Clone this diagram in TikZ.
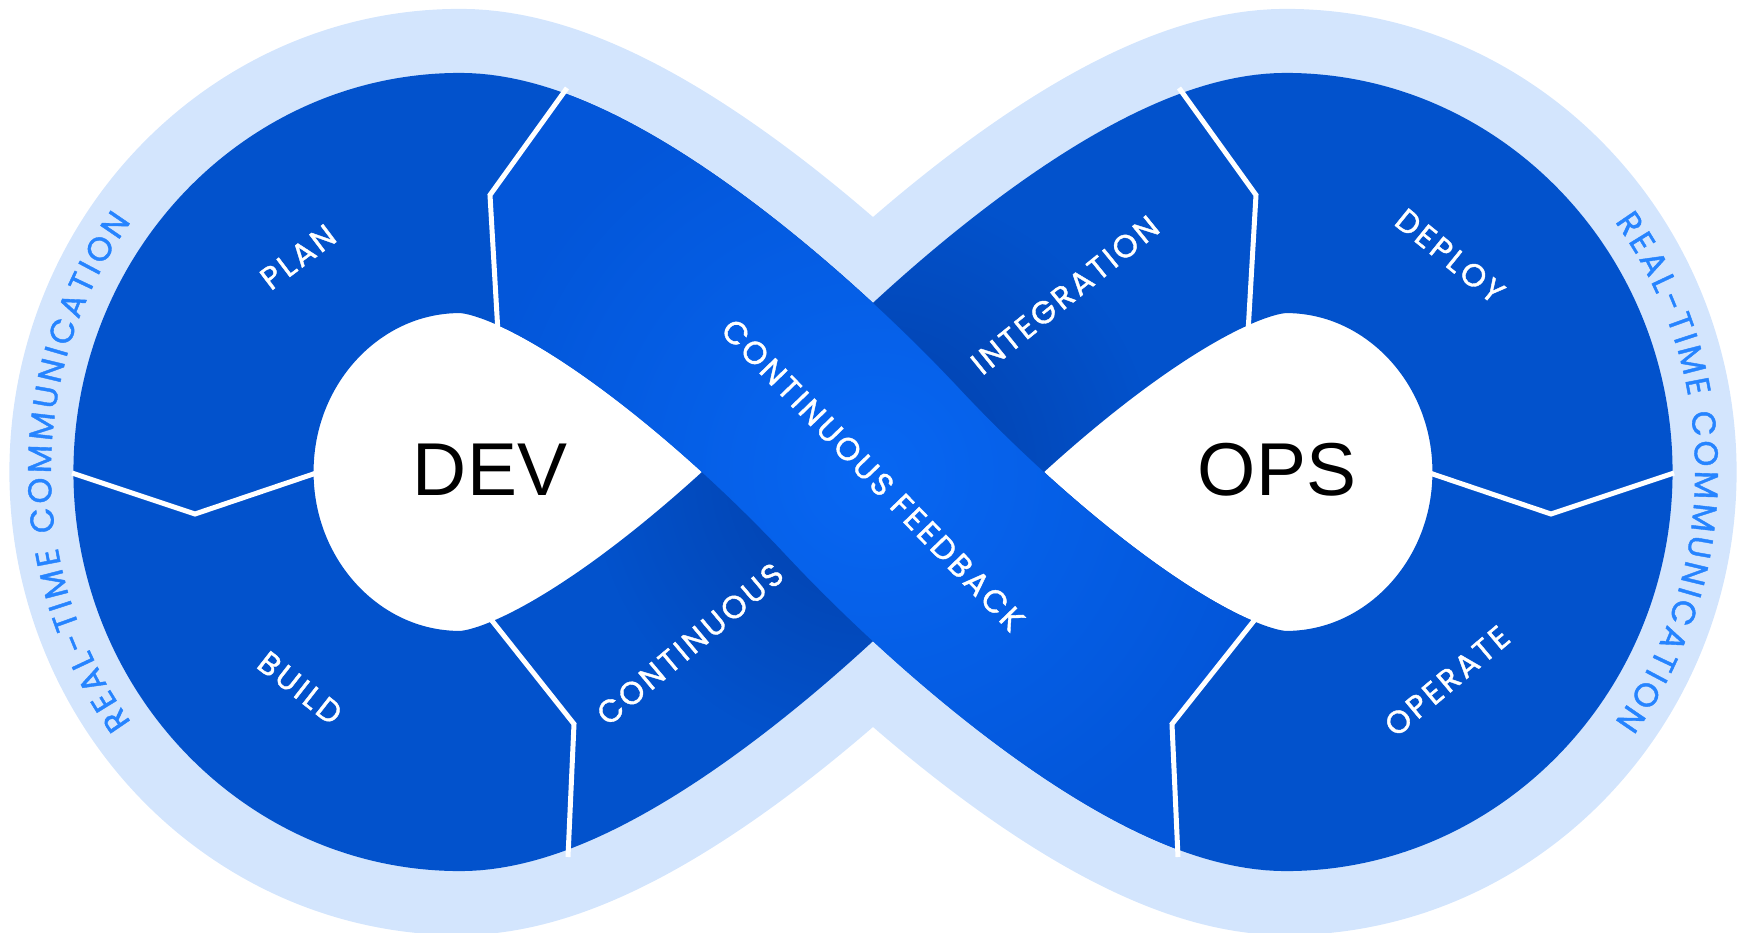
\documentclass[tikz,border=0pt]{standalone}
\usepackage{fontspec}
\setmainfont{Liberation Sans}
\newfontfamily\lblfont{Poppins}[LetterSpace=9.5,FakeBold=1.2]
\newfontfamily\rtcfont{Poppins}[FakeBold=1.2]
\usetikzlibrary{decorations.text,fadings}
\definecolor{lightband}{HTML}{D3E5FD}
\definecolor{lobe}{HTML}{0252CC}
\definecolor{bright}{HTML}{0356D9}
\definecolor{glow}{HTML}{0867F3}
\definecolor{shadowc}{HTML}{033FA8}
\definecolor{rtc}{HTML}{2684FF}
\tikzfading[name=softfade, inner color=transparent!0, outer color=transparent!100]
\tikzset{
  lbl/.style={text=white, font=\lblfont\fontsize{9}{11}\selectfont, inner sep=0pt},
  bigword/.style={text=black, font=\fontsize{21.3}{24}\selectfont, inner sep=0pt},
  divider/.style={draw=white, line width=0.05cm, line join=miter},
}
\begin{document}
\begin{tikzpicture}[x=0.01cm,y=-0.01cm]
\useasboundingbox (0,0) rectangle (1744,933);
\clip (0,0) rectangle (1744,933);
\path[save path=\infp] (460,193) .. controls (313,193) and (193.5,318) .. (193.5,472)
 .. controls (193.5,626) and (313,751) .. (460,751)
 .. controls (570,751) and (757,596) .. (873,472)
 .. controls (989,348) and (1176,193) .. (1286,193)
 .. controls (1433,193) and (1552.5,318) .. (1552.5,472)
 .. controls (1552.5,626) and (1433,751) .. (1286,751)
 .. controls (1176,751) and (989,596) .. (873,472)
 .. controls (757,348) and (570,193) .. (460,193) -- cycle;
\draw[lightband, line width=3.68cm, use path=\infp];
\fill[white, use path=\infp];
\draw[lobe, line width=2.4cm, use path=\infp];
% shadow cast by the feedback ribbon on the other ribbon
\draw[shadowc, line width=2.4cm, path fading=softfade, fit fading=false,
  fading transform={shift={(873,472)}, scale=3.2}]
  (460,751) .. controls (570,751) and (757,596) .. (873,472)
  .. controls (989,348) and (1176,193) .. (1286,193);
% bright ribbon (continuous feedback)
\begin{scope}
\clip (640,-20) -- (567,88) -- (490,195) -- (497,318) -- (503,423) -- (700,960) -- (1180,960)
  -- (1177,857) -- (1171,724) -- (1249,627) -- (1280,588) -- (1300,400) -- (1300,-20) -- cycle;
\draw[bright, line width=2.4cm] (460,193) .. controls (570,193) and (757,348) .. (873,472)
  .. controls (989,596) and (1176,751) .. (1286,751);
\draw[glow, line width=2.4cm, path fading=softfade, fit fading=false,
  fading transform={shift={(873,472)}, scale=4.6}]
  (460,193) .. controls (570,193) and (757,348) .. (873,472)
  .. controls (989,596) and (1176,751) .. (1286,751);
\end{scope}
% dividers
\draw[divider] (567,88) -- (490,195) -- (499,350);
\draw[divider] (474,598) -- (574,724) -- (568,857);
\draw[divider] (1179,88) -- (1256,195) -- (1247,350);
\draw[divider] (1272,598) -- (1172,724) -- (1178,857);
\draw[divider] (72,473) -- (195,514) -- (340,465);
\draw[divider] (1406,465) -- (1551,514) -- (1674,473);
% labels
\node[lbl, rotate=37] (plan) at (298,257) {PLAN};
\node[lbl, rotate=-38] (build) at (300,688) {BUILD};
\node[lbl, rotate=40] (cont) at (690,644) {CONTINUOUS};
\node[lbl, rotate=39] (integ) at (1065,295) {INTEGRATION};
\node[lbl, rotate=-46] (cfb) at (873,475) {CONTINUOUS FEEDBACK};
\node[lbl, rotate=-39] (deploy) at (1450,256) {DEPLOY};
\node[lbl, rotate=40] (operate) at (1447,681) {OPERATE};
\node[bigword] (dev) at (490,470) {DEV};
\node[bigword] (ops) at (1277,470) {OPS};
% real-time communication
\path[decorate, decoration={text along path, text align={fit to path},
  text={|\rtcfont\fontsize{9.4}{11}\selectfont\color{rtc}|REAL-TIME COMMUNICATION}}]
  plot[domain=-36.5:36.5, samples=80] ({460-409*cos(\x)},{472-421*sin(\x)});
\path[decorate, decoration={text along path, text align={fit to path},
  text={|\rtcfont\fontsize{9.4}{11}\selectfont\color{rtc}|REAL-TIME COMMUNICATION}}]
  plot[domain=-36.5:36.5, samples=80] ({1286+409*cos(\x)},{472+421*sin(\x)});
\end{tikzpicture}
\end{document}
